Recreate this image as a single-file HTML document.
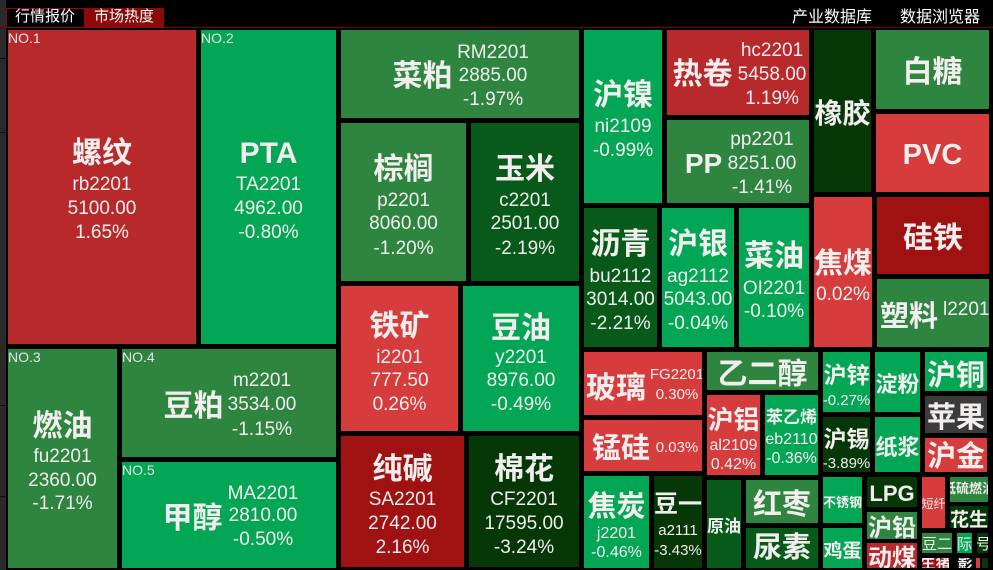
<!DOCTYPE html>
<html><head><meta charset="utf-8">
<style>
*{margin:0;padding:0;box-sizing:border-box}
html,body{width:993px;height:570px;background:#000;overflow:hidden}
body{position:relative;font-family:"Liberation Sans","Noto Sans CJK SC",sans-serif;color:#f2eeee}
.t{position:absolute;overflow:hidden}
.n{position:absolute;left:0;right:0;height:40px;line-height:40px;display:flex;justify-content:center;font-weight:bold;white-space:nowrap;margin-top:3px}
.d{position:absolute;left:0;right:0;height:30px;line-height:30px;display:flex;justify-content:center;font-size:19px;white-space:nowrap;margin-top:2px}
.s{position:absolute;left:0;right:0;height:20px;line-height:20px;display:flex;justify-content:center;font-size:15px;white-space:nowrap;margin-top:1px}
.no{position:absolute;left:0;top:0;font-size:14px;line-height:16px;color:#e6e2e2}
.R1{background:#b8292b}.R2{background:#d63c3c}.R3{background:#a01111}
.G1{background:#02a655}.G2{background:#2d8540}.G3{background:#075a19}.G4{background:#053806}
</style></head><body>
<div style="position:absolute;left:0;top:0;width:6px;height:570px;background:#2a2a2a"></div>
<div style="position:absolute;left:0;top:58px;width:6px;height:1px;background:#111"></div>
<div style="position:absolute;left:0;top:132px;width:6px;height:1px;background:#111"></div>
<div style="position:absolute;left:0;top:405px;width:6px;height:1px;background:#111"></div>
<div style="position:absolute;left:0;top:496px;width:6px;height:1px;background:#111"></div>
<div style="position:absolute;left:0;top:27px;width:993px;height:1px;background:#7a0000"></div>
<div style="position:absolute;left:6px;top:8px;width:158px;height:20px;border:1px solid #8b0a0a;background:#000"></div>
<div style="position:absolute;left:84px;top:8px;width:80px;height:20px;background:#8b0a0a"></div>
<div style="position:absolute;left:15px;top:7px;font-size:15px;line-height:20px;color:#fff">行情报价</div>
<div style="position:absolute;left:94px;top:7px;font-size:15px;line-height:20px;color:#fff">市场热度</div>
<div style="position:absolute;left:792px;top:8px;font-size:16px;line-height:20px;color:#fff">产业数据库</div>
<div style="position:absolute;left:900px;top:8px;font-size:16px;line-height:20px;color:#fff">数据浏览器</div>

<div class="t R1" style="left:8px;top:30px;width:188px;height:314px"><div class="no">NO.1</div>
<div class="n" style="top:101px;font-size:30px">螺纹</div><div class="d" style="top:138px">rb2201</div><div class="d" style="top:162px">5100.00</div><div class="d" style="top:186px">1.65%</div></div>

<div class="t G1" style="left:201px;top:30px;width:135px;height:314px"><div class="no">NO.2</div>
<div class="n" style="top:101px;font-size:30px">PTA</div><div class="d" style="top:138px">TA2201</div><div class="d" style="top:162px">4962.00</div><div class="d" style="top:186px">-0.80%</div></div>

<div class="t G2" style="left:8px;top:349px;width:109px;height:219px"><div class="no">NO.3</div>
<div class="n" style="top:55px;font-size:30px">燃油</div><div class="d" style="top:91px">fu2201</div><div class="d" style="top:115px">2360.00</div><div class="d" style="top:138px">-1.71%</div></div>

<div class="t G2" style="left:122px;top:349px;width:214px;height:108px"><div class="no">NO.4</div>
<div class="n" style="top:35px;left:42px;right:auto;width:59px;font-size:30px">豆粕</div>
<div class="d" style="top:15px;left:90px;right:auto;width:100px">m2201</div><div class="d" style="top:39px;left:90px;right:auto;width:100px">3534.00</div><div class="d" style="top:64px;left:90px;right:auto;width:100px">-1.15%</div></div>

<div class="t G1" style="left:122px;top:462px;width:214px;height:106px"><div class="no">NO.5</div>
<div class="n" style="top:34px;left:41px;right:auto;width:59px;font-size:30px">甲醇</div>
<div class="d" style="top:15px;left:91px;right:auto;width:100px">MA2201</div><div class="d" style="top:37px;left:91px;right:auto;width:100px">2810.00</div><div class="d" style="top:61px;left:91px;right:auto;width:100px">-0.50%</div></div>

<div class="t G2" style="left:341px;top:30px;width:238px;height:88px">
<div class="n" style="top:24px;left:52px;right:auto;width:59px;font-size:30px">菜粕</div>
<div class="d" style="top:6px;left:102px;right:auto;width:100px">RM2201</div><div class="d" style="top:29px;left:102px;right:auto;width:100px">2885.00</div><div class="d" style="top:53px;left:102px;right:auto;width:100px">-1.97%</div></div>

<div class="t G2" style="left:341px;top:123px;width:125px;height:158px">
<div class="n" style="top:24px;font-size:30px">棕榈</div><div class="d" style="top:61px">p2201</div><div class="d" style="top:84px">8060.00</div><div class="d" style="top:109px">-1.20%</div></div>

<div class="t G3" style="left:471px;top:123px;width:108px;height:158px">
<div class="n" style="top:24px;font-size:30px">玉米</div><div class="d" style="top:61px">c2201</div><div class="d" style="top:84px">2501.00</div><div class="d" style="top:109px">-2.19%</div></div>

<div class="t R2" style="left:341px;top:286px;width:117px;height:145px">
<div class="n" style="top:18px;font-size:30px">铁矿</div><div class="d" style="top:55px">i2201</div><div class="d" style="top:78px">777.50</div><div class="d" style="top:102px">0.26%</div></div>

<div class="t G1" style="left:463px;top:286px;width:116px;height:145px">
<div class="n" style="top:20px;font-size:30px">豆油</div><div class="d" style="top:55px">y2201</div><div class="d" style="top:78px">8976.00</div><div class="d" style="top:102px">-0.49%</div></div>

<div class="t R3" style="left:341px;top:436px;width:123px;height:131px">
<div class="n" style="top:11px;font-size:30px">纯碱</div><div class="d" style="top:47px">SA2201</div><div class="d" style="top:71px">2742.00</div><div class="d" style="top:95px">2.16%</div></div>

<div class="t G4" style="left:469px;top:436px;width:110px;height:131px">
<div class="n" style="top:11px;font-size:30px">棉花</div><div class="d" style="top:47px">CF2201</div><div class="d" style="top:71px">17595.00</div><div class="d" style="top:95px">-3.24%</div></div>

<div class="t G1" style="left:584px;top:30px;width:78px;height:173px">
<div class="n" style="top:43px;font-size:30px">沪镍</div><div class="d" style="top:80px">ni2109</div><div class="d" style="top:104px">-0.99%</div></div>

<div class="t R1" style="left:667px;top:30px;width:142px;height:85px">
<div class="n" style="top:22px;left:6px;right:auto;width:59px;font-size:30px">热卷</div>
<div class="d" style="top:4px;left:55px;right:auto;width:100px">hc2201</div><div class="d" style="top:28px;left:55px;right:auto;width:100px">5458.00</div><div class="d" style="top:52px;left:55px;right:auto;width:100px">1.19%</div></div>

<div class="t G2" style="left:667px;top:120px;width:142px;height:83px">
<div class="n" style="top:21px;left:18px;right:auto;width:37px;font-size:28px">PP</div>
<div class="d" style="top:3px;left:45px;right:auto;width:100px">pp2201</div><div class="d" style="top:27px;left:45px;right:auto;width:100px">8251.00</div><div class="d" style="top:51px;left:45px;right:auto;width:100px">-1.41%</div></div>

<div class="t G4" style="left:814px;top:30px;width:57px;height:162px"><div class="n" style="top:61px;font-size:28px">橡胶</div></div>
<div class="t G2" style="left:876px;top:30px;width:113px;height:79px"><div class="n" style="top:20px;font-size:30px">白糖</div></div>
<div class="t R2" style="left:876px;top:114px;width:113px;height:78px"><div class="n" style="top:18px;font-size:29px">PVC</div></div>

<div class="t G3" style="left:584px;top:208px;width:73px;height:139px">
<div class="n" style="top:14px;font-size:30px">沥青</div><div class="d" style="top:52px">bu2112</div><div class="d" style="top:75px">3014.00</div><div class="d" style="top:99px">-2.21%</div></div>

<div class="t G1" style="left:662px;top:208px;width:72px;height:139px">
<div class="n" style="top:14px;font-size:30px">沪银</div><div class="d" style="top:52px">ag2112</div><div class="d" style="top:75px">5043.00</div><div class="d" style="top:99px">-0.04%</div></div>

<div class="t G1" style="left:739px;top:208px;width:70px;height:139px">
<div class="n" style="top:26px;font-size:30px">菜油</div><div class="d" style="top:64px">OI2201</div><div class="d" style="top:87px">-0.10%</div></div>

<div class="t R2" style="left:814px;top:197px;width:58px;height:150px">
<div class="n" style="top:44px;font-size:29px">焦煤</div><div class="d" style="top:81px">0.02%</div></div>

<div class="t R3" style="left:877px;top:197px;width:112px;height:77px"><div class="n" style="top:19px;font-size:30px">硅铁</div></div>

<div class="t G2" style="left:877px;top:279px;width:112px;height:68px">
<div class="n" style="top:15px;left:3px;right:auto;width:58px;font-size:29px">塑料</div>
<div class="d" style="top:14px;left:66px;right:auto;width:auto;justify-content:flex-start">l2201</div></div>

<div class="t R2" style="left:584px;top:352px;width:118px;height:63px">
<div class="n" style="top:14px;left:2px;right:auto;width:60px;font-size:30px">玻璃</div>
<div class="s" style="top:12px;left:43px;right:auto;width:100px">FG2201</div><div class="s" style="top:32px;left:43px;right:auto;width:100px">0.30%</div></div>

<div class="t R2" style="left:584px;top:420px;width:118px;height:51px">
<div class="n" style="top:6px;left:8px;right:auto;width:58px;font-size:29px">锰硅</div>
<div class="s" style="top:17px;left:43px;right:auto;width:100px">0.03%</div></div>

<div class="t G2" style="left:707px;top:352px;width:111px;height:38px"><div class="n" style="top:0px;font-size:30px">乙二醇</div></div>

<div class="t R2" style="left:707px;top:395px;width:53px;height:80px">
<div class="n" style="top:2px;font-size:26px">沪铝</div><div class="s" style="top:40px;font-size:16px">al2109</div><div class="s" style="top:59px;font-size:16px">0.42%</div></div>

<div class="t G1" style="left:765px;top:395px;width:53px;height:80px">
<div class="n" style="top:0px;font-size:17px">苯乙烯</div><div class="s" style="top:34px;font-size:16px">eb2110</div><div class="s" style="top:53px;font-size:16px">-0.36%</div></div>

<div class="t G1" style="left:584px;top:476px;width:65px;height:92px">
<div class="n" style="top:8px;font-size:29px">焦炭</div><div class="s" style="top:47px;font-size:16px">j2201</div><div class="s" style="top:66px;font-size:16px">-0.46%</div></div>

<div class="t G4" style="left:654px;top:476px;width:48px;height:92px">
<div class="n" style="top:6px;font-size:24px">豆一</div><div class="s" style="top:44px">a2111</div><div class="s" style="top:64px">-3.43%</div></div>

<div class="t G3" style="left:707px;top:480px;width:34px;height:88px"><div class="n" style="top:24px;font-size:17px">原油</div></div>
<div class="t G2" style="left:746px;top:480px;width:72px;height:43px"><div class="n" style="top:2px;font-size:29px">红枣</div></div>
<div class="t G3" style="left:746px;top:528px;width:72px;height:40px"><div class="n" style="top:-3px;font-size:29px">尿素</div></div>

<div class="t G1" style="left:823px;top:352px;width:47px;height:60px">
<div class="n" style="top:0px;font-size:23px">沪锌</div><div class="s" style="top:38px">-0.27%</div></div>
<div class="t G4" style="left:823px;top:417px;width:47px;height:55px">
<div class="n" style="top:-1px;font-size:23px">沪锡</div><div class="s" style="top:36px">-3.89%</div></div>
<div class="t G1" style="left:823px;top:477px;width:39px;height:46px"><div class="n" style="top:3px;font-size:13px">不锈钢</div></div>
<div class="t G1" style="left:823px;top:528px;width:39px;height:40px"><div class="n" style="top:1px;font-size:19px">鸡蛋</div></div>

<div class="t G1" style="left:875px;top:352px;width:45px;height:60px"><div class="n" style="top:10px;font-size:22px">淀粉</div></div>
<div class="t G1" style="left:875px;top:417px;width:45px;height:55px"><div class="n" style="top:8px;font-size:22px">纸浆</div></div>
<div class="t G1" style="left:925px;top:352px;width:62px;height:39px"><div class="n" style="top:1px;font-size:29px">沪铜</div></div>
<div class="t" style="left:925px;top:396px;width:62px;height:37px;background:#3b3b3b"><div class="n" style="top:-1px;font-size:29px">苹果</div></div>
<div class="t R2" style="left:925px;top:438px;width:62px;height:34px"><div class="n" style="top:-4px;font-size:29px">沪金</div></div>

<div class="t G4" style="left:867px;top:477px;width:50px;height:30px"><div class="n" style="top:-6px;font-size:22px">LPG</div></div>
<div class="t G2" style="left:867px;top:512px;width:50px;height:27px"><div class="n" style="top:-6px;font-size:24px">沪铅</div></div>
<div class="t R1" style="left:867px;top:543px;width:50px;height:25px"><div class="n" style="top:-7px;font-size:24px">动煤</div></div>
<div class="t R2" style="left:922px;top:477px;width:23px;height:51px"><div class="n" style="top:4px;font-size:12px;font-weight:normal">短纤</div></div>
<div class="t G2" style="left:950px;top:477px;width:38px;height:25px"><div class="n" style="top:-11px;font-size:13px">低硫燃油</div></div>
<div class="t G4" style="left:950px;top:506px;width:38px;height:22px"><div class="n" style="top:-8px;font-size:19px">花生</div></div>
<div class="t G2" style="left:922px;top:533px;width:30px;height:20px"><div class="n" style="top:-11px;font-size:15px;font-weight:normal">豆二</div></div>
<div class="t G1" style="left:957px;top:533px;width:15px;height:20px"><div class="n" style="top:-11px;font-size:15px;font-weight:normal">国际铜</div></div>
<div class="t G4" style="left:977px;top:533px;width:11px;height:20px"><div class="n" style="top:-11px;font-size:15px;font-weight:normal">20号胶</div></div>
<div class="t R3" style="left:922px;top:558px;width:27px;height:10px"><div class="n" style="top:-17px;font-size:15px">生猪</div></div>
<div class="t" style="left:957px;top:558px;width:16px;height:10px;background:#111"><div class="n" style="top:-17px;font-size:15px">影</div></div>
<div class="t R2" style="left:976px;top:558px;width:4px;height:10px"></div>
<div class="t G4" style="left:982px;top:558px;width:6px;height:10px"></div>
</body></html>
